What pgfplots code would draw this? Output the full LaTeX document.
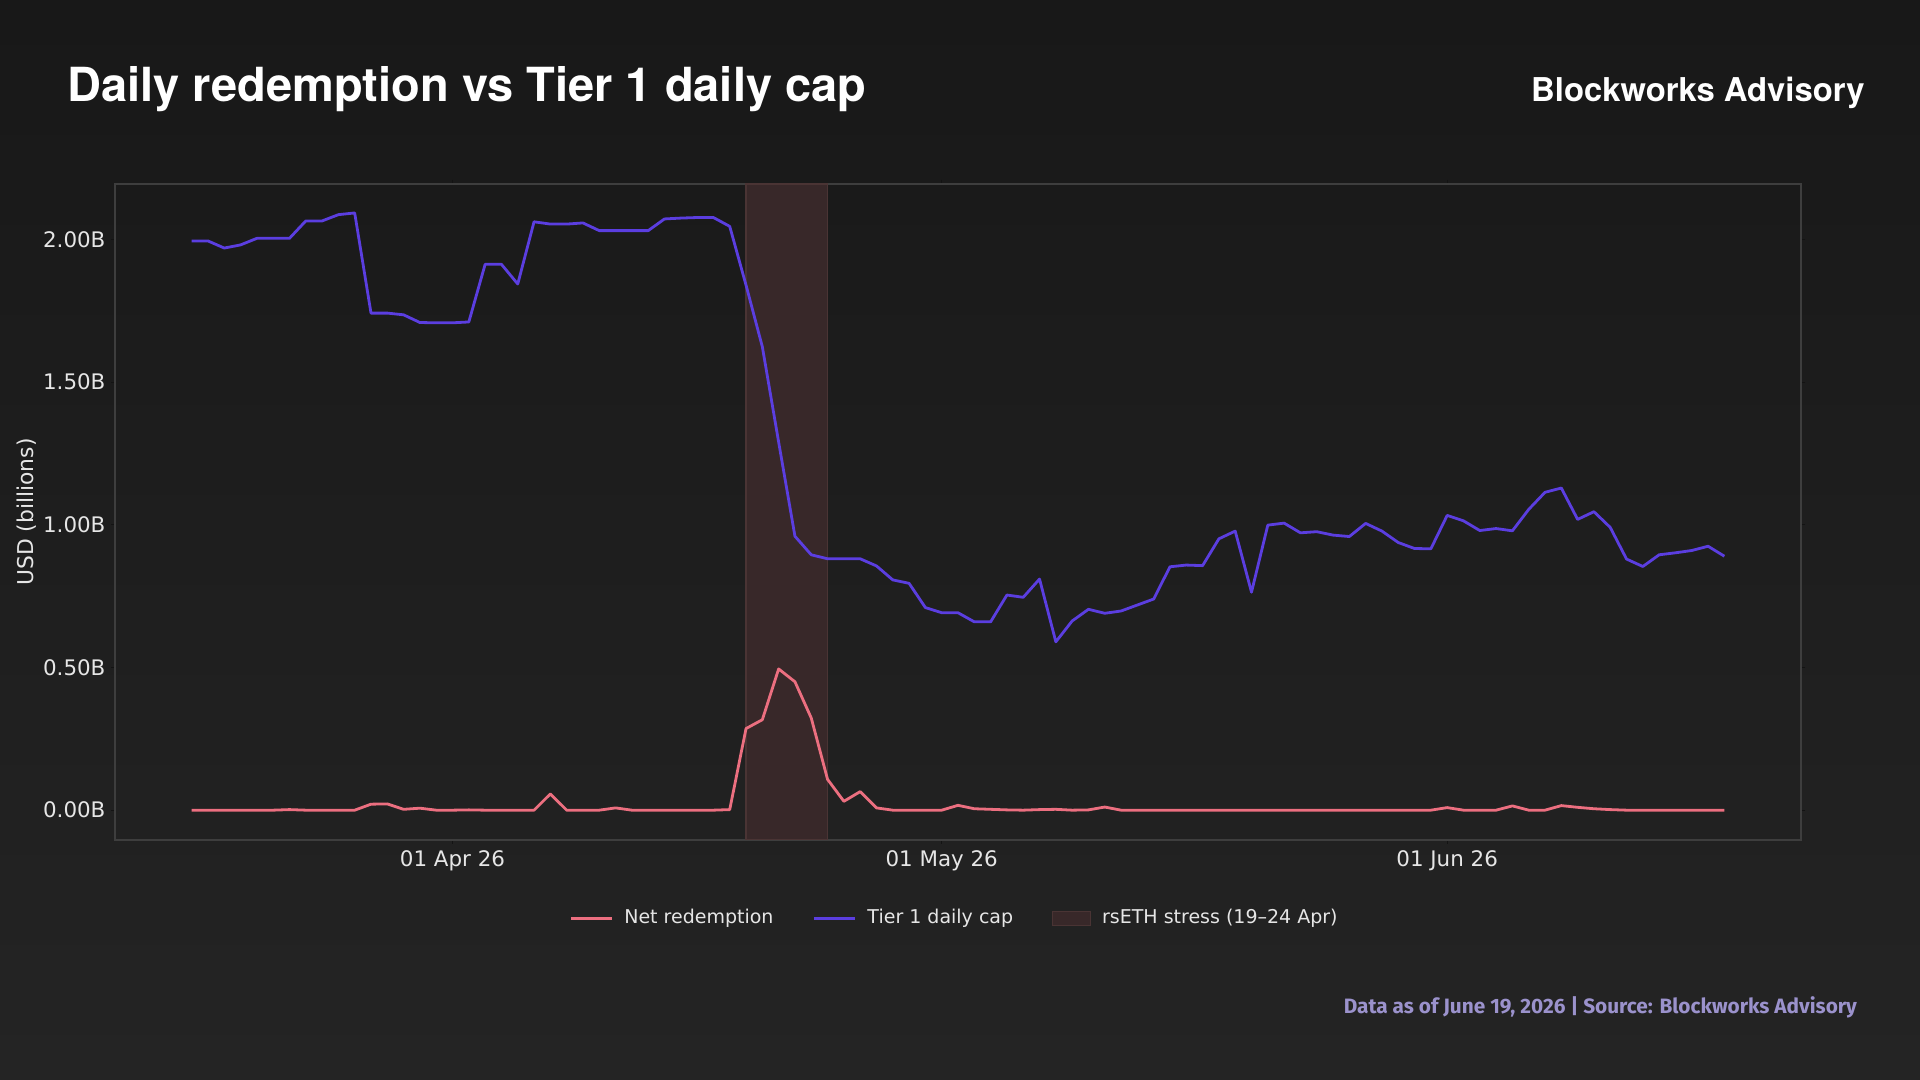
\documentclass[border=0pt]{standalone}
\usepackage{fontspec}
\setmainfont{DejaVu Sans}
\newfontfamily\titlefont{TeX Gyre Heros}
\newfontfamily\footfont{Fira Sans}
\usepackage{pgfplots}
\usepackage{pgfplotstable}
\pgfplotsset{compat=1.18}
\definecolor{bgtop}{HTML}{181818}
\definecolor{bgbot}{HTML}{242424}
\definecolor{capc}{HTML}{5B3EE0}
\definecolor{redc}{HTML}{EC6F80}
\definecolor{shadec}{HTML}{382829}
\definecolor{shadeedge}{HTML}{4A3434}
\definecolor{framec}{HTML}{3E3E3E}
\definecolor{tickc}{HTML}{E6E6E6}
\definecolor{footc}{HTML}{9B92CC}

% day index: 0 = 01 Apr 26
\pgfplotstableread{
day cap red
-16 1.995 0
-15 1.995 0
-14 1.970 0
-13 1.981 0
-12 2.004 0
-11 2.004 0
-10 2.004 0.002
-9 2.065 0
-8 2.065 0
-7 2.087 0
-6 2.093 0
-5 1.742 0.021
-4 1.742 0.022
-3 1.736 0.003
-2 1.709 0.007
-1 1.708 0
0 1.708 0
1 1.711 0.001
2 1.913 0
3 1.913 0
4 1.844 0
5 2.062 0
6 2.054 0.057
7 2.054 0
8 2.058 0
9 2.031 0
10 2.031 0.008
11 2.031 0
12 2.031 0
13 2.072 0
14 2.075 0
15 2.077 0
16 2.077 0
17 2.046 0.002
18 1.840 0.286
19 1.624 0.317
20 1.290 0.495
21 0.960 0.450
22 0.895 0.323
23 0.881 0.108
24 0.881 0.031
25 0.881 0.065
26 0.856 0.008
27 0.807 0
28 0.795 0
29 0.710 0
30 0.692 0
31 0.692 0.017
32 0.660 0.005
33 0.660 0.003
34 0.754 0.001
35 0.746 0
36 0.810 0.002
37 0.590 0.003
38 0.663 0
39 0.704 0.001
40 0.690 0.011
41 0.698 0
42 0.719 0
43 0.740 0
44 0.853 0
45 0.859 0
46 0.857 0
47 0.951 0
48 0.978 0
49 0.764 0
50 0.999 0
51 1.006 0
52 0.972 0
53 0.976 0
54 0.964 0
55 0.959 0
56 1.005 0
57 0.978 0
58 0.938 0
59 0.917 0
60 0.916 0
61 1.033 0.009
62 1.014 0
63 0.980 0
64 0.987 0
65 0.979 0.015
66 1.054 0
67 1.114 0
68 1.129 0.016
69 1.019 0.010
70 1.046 0.005
71 0.991 0.002
72 0.880 0
73 0.854 0
74 0.895 0
75 0.902 0
76 0.910 0
77 0.925 0
78 0.890 0
}\datatable

\begin{document}
\begin{tikzpicture}[x=1pt,y=1pt]
\shade[top color=bgtop, bottom color=bgbot] (0,0) rectangle (960,540);
\begin{axis}[
  at={(57.5pt,120pt)}, anchor=south west,
  scale only axis, width=843pt, height=328pt,
  xmin=-20.7, xmax=82.7, ymin=-0.1045, ymax=2.1945,
  axis line style={framec, line width=0.7pt},
  xtick={0,30,61}, xticklabels={01 Apr 26, 01 May 26, 01 Jun 26},
  ytick={0,0.5,1,1.5,2}, yticklabels={0.00B,0.50B,1.00B,1.50B,2.00B},
  tick align=outside, major tick length=2pt,
  tick style={color=black!70!framec, line width=0.6pt},
  ticklabel style={font=\fontsize{10.7}{12}\selectfont, text=tickc},
  xticklabel style={yshift=0.2pt},
  yticklabel style={xshift=0.75pt},
  ylabel={USD (billions)},
  every axis y label/.style={at={(axis description cs:-0.0522,0.5)}, rotate=90, anchor=center,
    font=\fontsize{10.9}{12}\selectfont, text=tickc},
  legend style={at={(0.4985,-0.119)}, anchor=center, legend columns=3, draw=none, fill=none,
    text=tickc, font=\fontsize{9.5}{11}\selectfont,
    /tikz/every odd column/.append style={column sep=3.5pt},
    /tikz/every even column/.append style={column sep=17.5pt}},
  legend cell align=left,
  legend image code/.code={\begin{scope}[line width=1.5pt]\draw[#1, line width=1.5pt] (0pt,0pt) -- (20.5pt,0pt);\end{scope}},
  legend image post style={line width=1.5pt},
  clip=true,
]
\addplot[fill=shadec, draw=shadeedge, line width=0.6pt, forget plot]
  coordinates {(18,-0.1045) (23,-0.1045) (23,2.1945) (18,2.1945)} -- cycle;
\addplot[redc, line width=1.4pt, line join=round] table[x=day, y=red] {\datatable};
\addlegendentry{Net redemption}
\addplot[capc, line width=1.4pt, line join=round] table[x=day, y=cap] {\datatable};
\addlegendentry{Tier 1 daily cap}
\addlegendimage{legend image code/.code={\draw[fill=shadec, draw=shadeedge, line width=0.5pt] (0pt,-3.5pt) rectangle (19pt,3.5pt);}}
\addlegendentry{rsETH stress (19--24 Apr)}
\end{axis}
\node[anchor=base west, text=white, inner sep=0pt, font=\titlefont\bfseries\fontsize{23.5}{28}\selectfont] at (33.5,489.2) {Daily redemption vs Tier 1 daily cap};
\node[anchor=base east, text=white, inner sep=0pt, font=\titlefont\bfseries\fontsize{16.4}{20}\selectfont] at (932.5,489.2) {Blockworks Advisory};
\node[anchor=base east, text=footc, inner sep=0pt, font=\footfont\bfseries\fontsize{10.4}{12}\selectfont] at (928.7,33.4) {Data as of June 19, 2026 | Source: Blockworks Advisory};
\end{tikzpicture}
\end{document}
